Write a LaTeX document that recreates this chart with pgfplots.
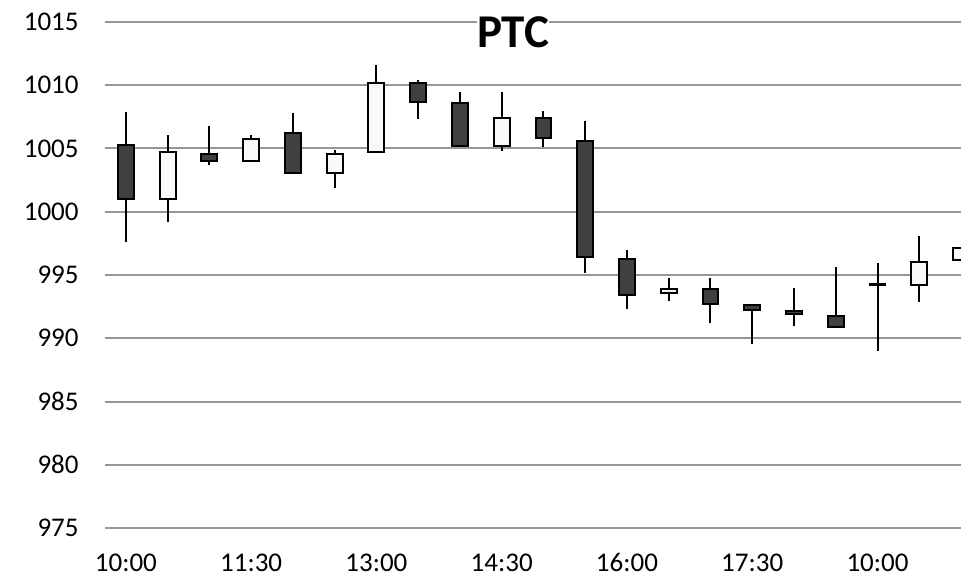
\documentclass[border=0pt]{standalone}
\usepackage{fontspec}
\setmainfont{Carlito}
\usepackage{pgfplots}
\pgfplotsset{compat=1.18}
\usepgfplotslibrary{statistics}
\definecolor{gridgray}{RGB}{150,150,150}
\definecolor{downfill}{RGB}{64,64,64}
\definecolor{upfill}{RGB}{249,249,249}
\tikzset{
  candledown/.style={draw=black, fill=downfill, line width=1pt},
  candleup/.style={draw=black, fill=upfill, line width=1pt},
}
\begin{document}
\begin{tikzpicture}
\begin{axis}[
  name=ax, at={(0,0)}, anchor=south west,
  scale only axis, width=428pt, height=253pt,
  xmin=-0.5, xmax=20, ymin=975, ymax=1015,
  axis line style={draw=none},
  major tick length=0pt,
  ymajorgrids, grid style={gridgray, line width=1pt},
  ytick={975,980,...,1015},
  xtick={0,3,...,18},
  xticklabels={10:00,11:30,13:00,14:30,16:00,17:30,10:00},
  ticklabel style={font=\fontsize{13.5}{16}\selectfont},
  /pgf/number format/assume math mode=true,
  /pgf/number format/set thousands separator={},
  yticklabel style={anchor=east, inner sep=0pt, xshift=-13pt},
  xticklabel style={anchor=base, inner sep=0pt, yshift=-21.5pt},
  boxplot/draw direction=y,
  boxplot/box extend=0.38,
  boxplot/whisker extend=0,
  clip=true,
]
% each candle: low wick, body bottom, body top, high wick
\addplot[candledown, boxplot prepared={draw position=0, lower whisker=997.6, lower quartile=1001.0, median=1001.0, upper quartile=1005.3, upper whisker=1007.9}] coordinates {};
\addplot[candleup, boxplot prepared={draw position=1, lower whisker=999.2, lower quartile=1001.0, median=1001.0, upper quartile=1004.7, upper whisker=1006.1}] coordinates {};
\addplot[candledown, boxplot prepared={draw position=2, lower whisker=1003.7, lower quartile=1004.05, median=1004.05, upper quartile=1004.6, upper whisker=1006.8}] coordinates {};
\addplot[candleup, boxplot prepared={draw position=3, lower whisker=1004.0, lower quartile=1004.05, median=1004.05, upper quartile=1005.75, upper whisker=1006.1}] coordinates {};
\addplot[candledown, boxplot prepared={draw position=4, lower whisker=1003.0, lower quartile=1003.05, median=1003.05, upper quartile=1006.25, upper whisker=1007.8}] coordinates {};
\addplot[candleup, boxplot prepared={draw position=5, lower whisker=1001.9, lower quartile=1003.05, median=1003.05, upper quartile=1004.6, upper whisker=1004.9}] coordinates {};
\addplot[candleup, boxplot prepared={draw position=6, lower whisker=1004.7, lower quartile=1004.7, median=1004.7, upper quartile=1010.2, upper whisker=1011.6}] coordinates {};
\addplot[candledown, boxplot prepared={draw position=7, lower whisker=1007.3, lower quartile=1008.7, median=1008.7, upper quartile=1010.2, upper whisker=1010.4}] coordinates {};
\addplot[candledown, boxplot prepared={draw position=8, lower whisker=1005.2, lower quartile=1005.2, median=1005.2, upper quartile=1008.6, upper whisker=1009.45}] coordinates {};
\addplot[candleup, boxplot prepared={draw position=9, lower whisker=1004.8, lower quartile=1005.2, median=1005.2, upper quartile=1007.4, upper whisker=1009.45}] coordinates {};
\addplot[candledown, boxplot prepared={draw position=10, lower whisker=1005.15, lower quartile=1005.85, median=1005.85, upper quartile=1007.4, upper whisker=1007.95}] coordinates {};
\addplot[candledown, boxplot prepared={draw position=11, lower whisker=995.16, lower quartile=996.4, median=996.4, upper quartile=1005.6, upper whisker=1007.17}] coordinates {};
\addplot[candledown, boxplot prepared={draw position=12, lower whisker=992.3, lower quartile=993.4, median=993.4, upper quartile=996.25, upper whisker=996.95}] coordinates {};
\addplot[candleup, boxplot prepared={draw position=13, lower whisker=992.96, lower quartile=993.58, median=993.58, upper quartile=993.9, upper whisker=994.76}] coordinates {};
\addplot[candledown, boxplot prepared={draw position=14, lower whisker=991.2, lower quartile=992.7, median=992.7, upper quartile=993.9, upper whisker=994.76}] coordinates {};
\addplot[candledown, boxplot prepared={draw position=15, lower whisker=989.53, lower quartile=992.25, median=992.25, upper quartile=992.6, upper whisker=992.6}] coordinates {};
\addplot[candledown, boxplot prepared={draw position=16, lower whisker=991.0, lower quartile=991.88, median=991.88, upper quartile=992.12, upper whisker=993.97}] coordinates {};
\addplot[candledown, boxplot prepared={draw position=17, lower whisker=990.9, lower quartile=990.9, median=990.9, upper quartile=991.75, upper whisker=995.6}] coordinates {};
\addplot[candledown, boxplot prepared={draw position=18, lower whisker=989.0, lower quartile=994.2, median=994.2, upper quartile=994.3, upper whisker=995.95}] coordinates {};
\addplot[candleup, boxplot prepared={draw position=19, lower whisker=992.87, lower quartile=994.2, median=994.2, upper quartile=996.05, upper whisker=998.1}] coordinates {};
\addplot[candleup, boxplot prepared={draw position=20, lower whisker=996.2, lower quartile=996.2, median=996.2, upper quartile=997.1, upper whisker=997.1}] coordinates {};
\end{axis}
\node[font=\fontsize{23.5}{28}\selectfont\bfseries, fill=white, inner sep=0pt]
  at ([xshift=204pt, yshift=248pt]ax.south west) {PTC};
\pgfresetboundingbox
\path[use as bounding box] ([xshift=-52.5pt, yshift=-24.5pt]ax.south west)
  rectangle ([yshift=11pt]ax.north east);
\end{tikzpicture}
\end{document}
